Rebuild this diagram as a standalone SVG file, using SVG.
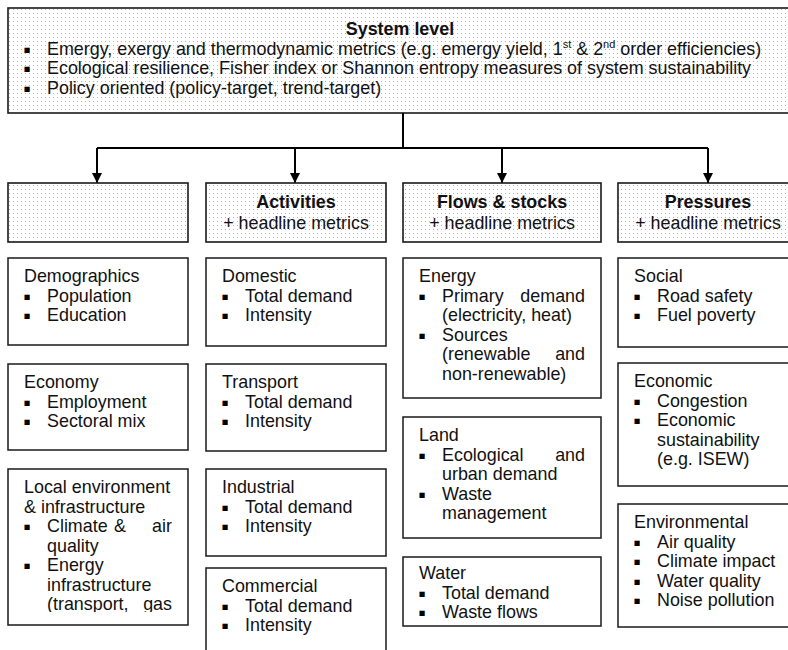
<svg xmlns="http://www.w3.org/2000/svg" width="788" height="650" viewBox="0 0 788 650">
<defs>
<pattern id="dots" x="0" y="0" width="4" height="4" patternUnits="userSpaceOnUse">
<rect width="4" height="4" fill="#ffffff"/>
<rect x="1" y="1" width="1" height="1" fill="#b4b4b4"/>
</pattern>
<marker id="arr" markerWidth="10" markerHeight="10" refX="10" refY="5" orient="auto" markerUnits="userSpaceOnUse">
<path d="M0,0 L10,5 L0,10 Z" fill="#000"/>
</marker>
<clipPath id="clipLocal"><rect x="8" y="469" width="180" height="143"/></clipPath>
</defs>
<style>
.t{font-family:"Liberation Sans",Arial,sans-serif;font-size:17.9px;fill:#111}
.bd{font-weight:bold}
.mid{text-anchor:middle}
.end{text-anchor:end}
.sup{font-size:11px}
.bu{font-family:"DejaVu Sans",sans-serif;font-size:10.5px;text-anchor:middle;fill:#000}
.box{fill:#fff;stroke:#1a1a1a;stroke-width:1.5}
.dbox{fill:url(#dots);stroke:#1a1a1a;stroke-width:1.6}
.con{fill:none;stroke:#000;stroke-width:2}
</style>
<rect width="788" height="650" fill="#fff"/>

<g id="system-level">
<rect class="dbox" x="8" y="8" width="792" height="105"/>
<text class="t bd mid" x="400" y="35">System level</text>
<text class="bu" x="27" y="52.5">▪</text>
<text class="t" x="47" y="54.5">Emergy, exergy and thermodynamic metrics (e.g. emergy yield, 1<tspan class="sup" dy="-7">st</tspan><tspan dy="7"> &amp; 2</tspan><tspan class="sup" dy="-7">nd</tspan><tspan dy="7"> order efficiencies)</tspan></text>
<text class="bu" x="27" y="72">▪</text>
<text class="t" x="47" y="74">Ecological resilience, Fisher index or Shannon entropy measures of system sustainability</text>
<text class="bu" x="27" y="91.5">▪</text>
<text class="t" x="47" y="93.5">Policy oriented (policy-target, trend-target)</text>
</g>

<g id="connectors">
<polyline class="con" points="403,113 403,148"/>
<polyline class="con" points="97,148 708,148"/>
<line class="con" x1="97" y1="148" x2="97" y2="183" marker-end="url(#arr)"/>
<line class="con" x1="295" y1="148" x2="295" y2="183" marker-end="url(#arr)"/>
<line class="con" x1="502" y1="148" x2="502" y2="183" marker-end="url(#arr)"/>
<line class="con" x1="708" y1="148" x2="708" y2="183" marker-end="url(#arr)"/>
</g>

<g id="header-blank"><rect class="dbox" x="8" y="183" width="180" height="59"/></g>
<g id="header-activities"><rect class="dbox" x="206" y="183" width="180" height="59"/>
<text class="t bd mid" x="296" y="208">Activities</text>
<text class="t mid" x="296" y="228.5">+ headline metrics</text></g>
<g id="header-flows"><rect class="dbox" x="403" y="183" width="198" height="59"/>
<text class="t bd mid" x="502" y="208">Flows &amp; stocks</text>
<text class="t mid" x="502" y="228.5">+ headline metrics</text></g>
<g id="header-pressures"><rect class="dbox" x="618" y="183" width="182" height="59"/>
<text class="t bd mid" x="708" y="208">Pressures</text>
<text class="t mid" x="708" y="228.5">+ headline metrics</text></g>

<g id="demographics"><rect class="box" x="8" y="258" width="180" height="87"/>
<text class="t" x="24" y="282">Demographics</text>
<text class="bu" x="27" y="299.5">▪</text><text class="t" x="47" y="301.5">Population</text>
<text class="bu" x="27" y="319">▪</text><text class="t" x="47" y="321">Education</text></g>

<g id="economy"><rect class="box" x="8" y="364" width="180" height="86"/>
<text class="t" x="24" y="388">Economy</text>
<text class="bu" x="27" y="405.5">▪</text><text class="t" x="47" y="407.5">Employment</text>
<text class="bu" x="27" y="425">▪</text><text class="t" x="47" y="427">Sectoral mix</text></g>

<g id="local-environment"><rect class="box" x="8" y="469" width="180" height="156"/>
<g clip-path="url(#clipLocal)">
<text class="t" x="24" y="493">Local environment</text>
<text class="t" x="24" y="512.5">&amp; infrastructure</text>
<text class="bu" x="27" y="530">▪</text><text class="t" x="47" y="532">Climate</text><text class="t mid" x="120" y="532">&amp;</text><text class="t end" x="172" y="532">air</text>
<text class="t" x="47" y="551.5">quality</text>
<text class="bu" x="27" y="569">▪</text><text class="t" x="47" y="571">Energy</text>
<text class="t" x="47" y="590.5">infrastructure</text>
<text class="t" x="47" y="610">(transport,</text><text class="t end" x="172" y="610">gas</text>
</g></g>

<g id="domestic"><rect class="box" x="206" y="258" width="180" height="88"/>
<text class="t" x="222" y="282">Domestic</text>
<text class="bu" x="225" y="299.5">▪</text><text class="t" x="245" y="301.5">Total demand</text>
<text class="bu" x="225" y="319">▪</text><text class="t" x="245" y="321">Intensity</text></g>

<g id="transport"><rect class="box" x="206" y="364" width="180" height="87"/>
<text class="t" x="222" y="388">Transport</text>
<text class="bu" x="225" y="405.5">▪</text><text class="t" x="245" y="407.5">Total demand</text>
<text class="bu" x="225" y="425">▪</text><text class="t" x="245" y="427">Intensity</text></g>

<g id="industrial"><rect class="box" x="206" y="469" width="180" height="87"/>
<text class="t" x="222" y="493">Industrial</text>
<text class="bu" x="225" y="510.5">▪</text><text class="t" x="245" y="512.5">Total demand</text>
<text class="bu" x="225" y="530">▪</text><text class="t" x="245" y="532">Intensity</text></g>

<g id="commercial"><rect class="box" x="206" y="568" width="180" height="95"/>
<text class="t" x="222" y="592">Commercial</text>
<text class="bu" x="225" y="609.5">▪</text><text class="t" x="245" y="611.5">Total demand</text>
<text class="bu" x="225" y="629">▪</text><text class="t" x="245" y="631">Intensity</text></g>

<g id="energy"><rect class="box" x="403" y="258" width="198" height="140"/>
<text class="t" x="419" y="282">Energy</text>
<text class="bu" x="422" y="299.5">▪</text><text class="t" x="442" y="301.5">Primary</text><text class="t end" x="585" y="301.5">demand</text>
<text class="t" x="442" y="321">(electricity, heat)</text>
<text class="bu" x="422" y="338.5">▪</text><text class="t" x="442" y="340.5">Sources</text>
<text class="t" x="442" y="360">(renewable</text><text class="t end" x="585" y="360">and</text>
<text class="t" x="442" y="379.5">non-renewable)</text></g>

<g id="land"><rect class="box" x="403" y="417" width="198" height="121"/>
<text class="t" x="419" y="441">Land</text>
<text class="bu" x="422" y="458.5">▪</text><text class="t" x="442" y="460.5">Ecological</text><text class="t end" x="585" y="460.5">and</text>
<text class="t" x="442" y="480">urban demand</text>
<text class="bu" x="422" y="497.5">▪</text><text class="t" x="442" y="499.5">Waste</text>
<text class="t" x="442" y="519">management</text></g>

<g id="water"><rect class="box" x="403" y="557" width="198" height="69"/>
<text class="t" x="419" y="579">Water</text>
<text class="bu" x="422" y="596.5">▪</text><text class="t" x="442" y="598.5">Total demand</text>
<text class="bu" x="422" y="616">▪</text><text class="t" x="442" y="618">Waste flows</text></g>

<g id="social"><rect class="box" x="618" y="258" width="182" height="89"/>
<text class="t" x="634" y="282">Social</text>
<text class="bu" x="637" y="299.5">▪</text><text class="t" x="657" y="301.5">Road safety</text>
<text class="bu" x="637" y="319">▪</text><text class="t" x="657" y="321">Fuel poverty</text></g>

<g id="economic"><rect class="box" x="618" y="363" width="182" height="123"/>
<text class="t" x="634" y="387">Economic</text>
<text class="bu" x="637" y="404.5">▪</text><text class="t" x="657" y="406.5">Congestion</text>
<text class="bu" x="637" y="424">▪</text><text class="t" x="657" y="426">Economic</text>
<text class="t" x="657" y="445.5">sustainability</text>
<text class="t" x="657" y="465">(e.g. ISEW)</text></g>

<g id="environmental"><rect class="box" x="618" y="504" width="182" height="123"/>
<text class="t" x="634" y="528">Environmental</text>
<text class="bu" x="637" y="545.5">▪</text><text class="t" x="657" y="547.5">Air quality</text>
<text class="bu" x="637" y="565">▪</text><text class="t" x="657" y="567">Climate impact</text>
<text class="bu" x="637" y="584.5">▪</text><text class="t" x="657" y="586.5">Water quality</text>
<text class="bu" x="637" y="604">▪</text><text class="t" x="657" y="606">Noise pollution</text></g>
</svg>
